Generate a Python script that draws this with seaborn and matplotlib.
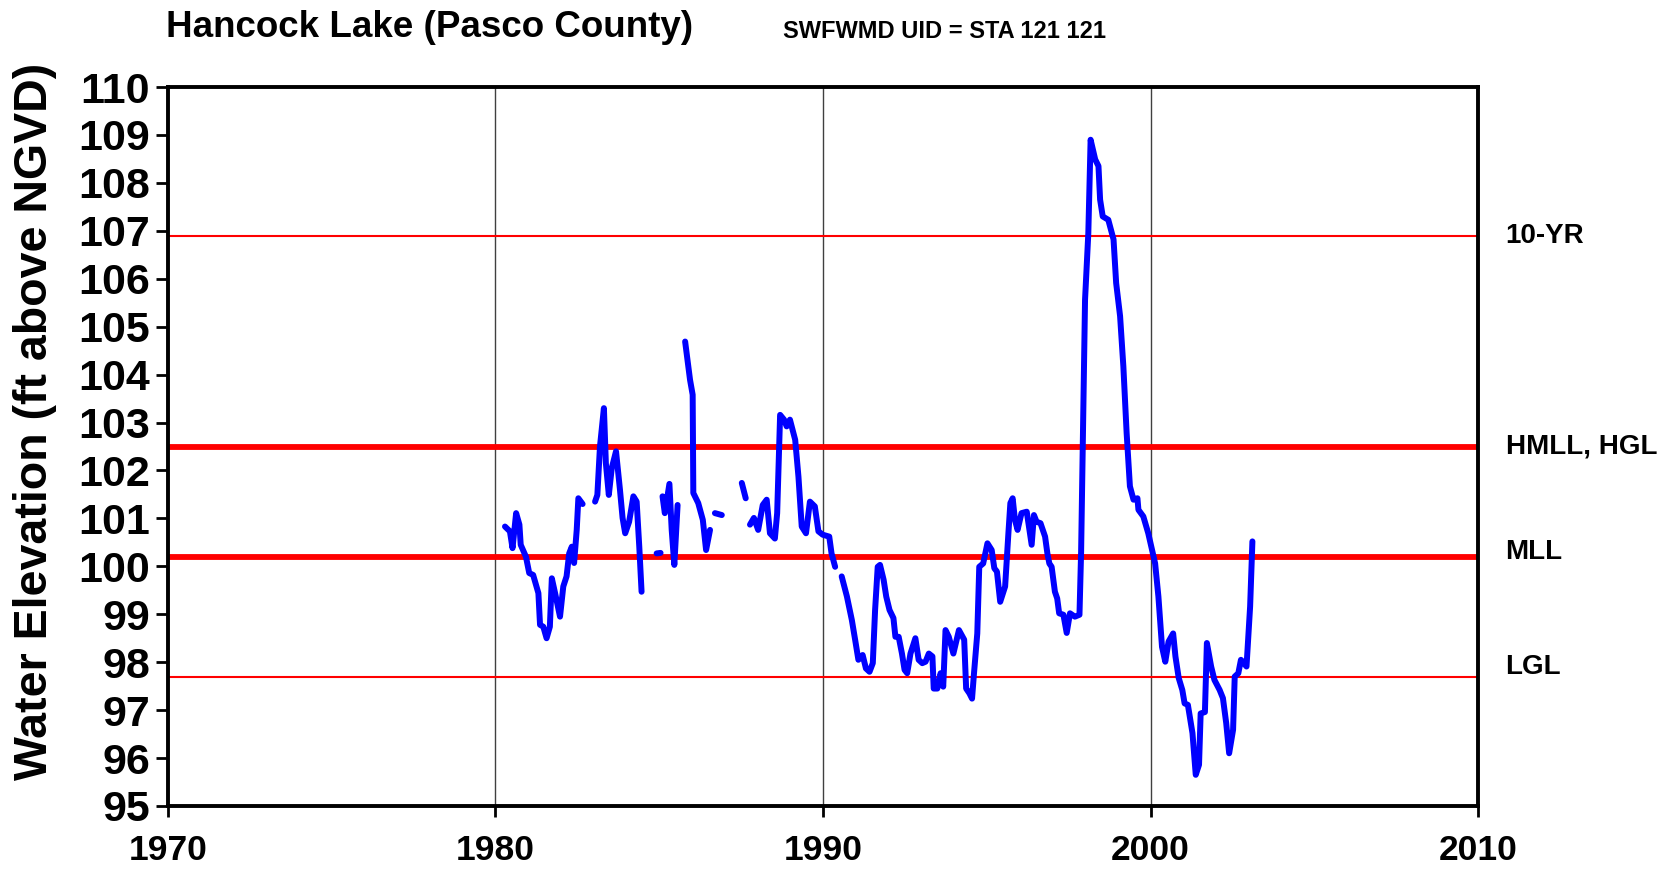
import numpy as np
import pandas as pd
import matplotlib
matplotlib.use('Agg')
import matplotlib.pyplot as plt
from matplotlib.ticker import MultipleLocator
import seaborn as sns

nan = np.nan

# Hancock Lake water levels (nan = gap in the record)
years = [1980.29, 1980.44, 1980.52, 1980.63, 1980.73, 1980.77, 1980.93, 1981.03, 1981.15, 1981.31,
         1981.36, 1981.46, 1981.56, 1981.66, 1981.72, 1981.82, 1981.97, 1982.07, 1982.17, 1982.25,
         1982.33, 1982.40, 1982.48, 1982.53, 1982.66, nan,
         1983.04, 1983.11, 1983.19, 1983.31, 1983.37, 1983.46, 1983.55, 1983.68, 1983.80, 1983.88,
         1983.96, 1984.08, 1984.21, 1984.31, 1984.39, 1984.46, nan,
         1984.92, 1985.04, nan,
         1985.10, 1985.17, 1985.31, 1985.38, 1985.46, 1985.56, nan,
         1985.79, 1985.94, 1986.02, 1986.04, 1986.19, 1986.33, 1986.43, 1986.55, nan,
         1986.70, 1986.91, nan,
         1987.52, 1987.64, nan,
         1987.77, 1987.89, 1988.02, 1988.16, 1988.28, 1988.38, 1988.53, 1988.60, 1988.69, 1988.81,
         1988.89, 1988.99, 1989.15, 1989.25, 1989.35, 1989.48, 1989.60, 1989.75, 1989.86, 1989.99,
         1990.19, 1990.26, 1990.37, nan,
         1990.57, 1990.73, 1990.88, 1990.98, 1991.08, 1991.21, 1991.31, 1991.42, 1991.52, 1991.59,
         1991.67, 1991.74, 1991.85, 1991.93, 1992.03, 1992.15, 1992.21, 1992.31, 1992.41, 1992.49,
         1992.57, 1992.67, 1992.82, 1992.92, 1993.03, 1993.13, 1993.23, 1993.34, 1993.38, 1993.49,
         1993.59, 1993.67, 1993.74, 1993.84, 1993.98, 1994.15, 1994.31, 1994.37, 1994.47, 1994.55,
         1994.61, 1994.71, 1994.77, 1994.89, 1995.02, 1995.15, 1995.23, 1995.31, 1995.41, 1995.56,
         1995.66, 1995.72, 1995.79, 1995.86, 1995.94, 1996.06, 1996.22, 1996.37, 1996.44, 1996.52,
         1996.64, 1996.78, 1996.85, 1996.91, 1996.98, 1997.08, 1997.15, 1997.21, 1997.34, 1997.44,
         1997.54, 1997.69, 1997.83, 1997.88, 1998.00, 1998.10, 1998.17, 1998.31, 1998.41, 1998.46,
         1998.54, 1998.71, 1998.87, 1998.95, 1999.07, 1999.17, 1999.27, 1999.37, 1999.48, 1999.60,
         1999.63, 1999.78, 1999.93, 2000.14, 2000.24, 2000.35, 2000.45, 2000.55, 2000.69, 2000.76,
         2000.86, 2000.97, 2001.04, 2001.14, 2001.28, 2001.38, 2001.48, 2001.53, 2001.66, 2001.72,
         2001.85, 2001.95, 2002.11, 2002.21, 2002.31, 2002.40, 2002.52, 2002.57, 2002.68, 2002.76,
         2002.93, 2003.04, 2003.11]

elev = [100.83, 100.73, 100.38, 101.11, 100.87, 100.45, 100.20, 99.86, 99.82, 99.44,
        98.78, 98.74, 98.50, 98.74, 99.75, 99.44, 98.95, 99.58, 99.79, 100.27,
        100.41, 100.07, 100.76, 101.42, 101.30, nan,
        101.35, 101.49, 102.50, 103.30, 102.15, 101.49, 102.05, 102.40, 101.60, 101.01,
        100.69, 100.93, 101.46, 101.35, 100.41, 99.47, nan,
        100.27, 100.28, nan,
        101.46, 101.11, 101.72, 100.76, 100.03, 101.28, nan,
        104.69, 103.89, 103.58, 101.53, 101.32, 100.97, 100.34, 100.76, nan,
        101.11, 101.07, nan,
        101.74, 101.42, nan,
        100.87, 101.01, 100.76, 101.28, 101.39, 100.69, 100.58, 101.11, 103.16, 103.06,
        102.92, 103.06, 102.64, 101.87, 100.83, 100.69, 101.35, 101.25, 100.73, 100.66,
        100.62, 100.27, 99.99, nan,
        99.79, 99.37, 98.88, 98.47, 98.05, 98.15, 97.87, 97.80, 97.98, 99.09,
        99.99, 100.03, 99.72, 99.37, 99.09, 98.92, 98.53, 98.53, 98.18, 97.84,
        97.77, 98.18, 98.50, 98.05, 97.98, 98.01, 98.18, 98.12, 97.45, 97.45,
        97.77, 97.49, 98.67, 98.53, 98.18, 98.67, 98.47, 97.45, 97.35, 97.24,
        97.77, 98.60, 99.99, 100.06, 100.48, 100.34, 99.96, 99.89, 99.26, 99.58,
        100.69, 101.32, 101.42, 100.97, 100.76, 101.11, 101.14, 100.45, 101.07, 100.93,
        100.90, 100.62, 100.27, 100.06, 99.99, 99.47, 99.33, 99.02, 98.99, 98.61,
        99.02, 98.95, 98.99, 100.3, 105.56, 106.95, 108.90, 108.49, 108.35, 107.65,
        107.30, 107.23, 106.82, 105.91, 105.22, 104.17, 102.78, 101.67, 101.39, 101.42,
        101.18, 101.04, 100.69, 100.06, 99.37, 98.32, 98.01, 98.43, 98.60, 98.12,
        97.67, 97.42, 97.14, 97.11, 96.52, 95.65, 95.86, 96.93, 96.96, 98.40,
        97.91, 97.63, 97.42, 97.25, 96.73, 96.10, 96.59, 97.70, 97.77, 98.05,
        97.91, 99.16, 100.52]

# guidance levels (ft NGVD)
level_names = ['10-YR', 'HMLL, HGL', 'MLL', 'LGL']
level_values = [106.9, 102.5, 100.2, 97.7]
level_label_y = [106.9, 102.5, 100.3, 97.9]

sns.set_style('white')
plt.rcParams['font.family'] = ['Liberation Sans', 'DejaVu Sans']
plt.rcParams['font.weight'] = 'bold'
plt.rcParams['text.color'] = 'black'
plt.rcParams['axes.labelcolor'] = 'black'
plt.rcParams['xtick.color'] = 'black'
plt.rcParams['ytick.color'] = 'black'

df = pd.DataFrame({'year': years, 'elev': elev})
df['seg'] = df['elev'].isna().cumsum()
df = df.dropna()

fig = plt.figure(figsize=(16.63, 8.72), dpi=100)
ax = fig.add_axes([0.101, 0.0757, 0.7878, 0.8245])

for x in [1980, 1990, 2000]:
    ax.axvline(x, color='#404040', lw=1.0, zorder=1)

for name, val in zip(level_names, level_values):
    lw = 4.2 if name in ('HMLL, HGL', 'MLL') else 1.5
    ax.axhline(val, color='red', lw=lw, zorder=2)

sns.lineplot(data=df, x='year', y='elev', units='seg', estimator=None,
             color='blue', lw=4.3, ax=ax, zorder=3)

ax.set_xlim(1970, 2010)
ax.set_ylim(95, 110)
ax.xaxis.set_major_locator(MultipleLocator(10))
ax.xaxis.set_minor_locator(MultipleLocator(1))
ax.yaxis.set_major_locator(MultipleLocator(1))
ax.yaxis.set_minor_locator(MultipleLocator(0.5))
ax.tick_params(axis='both', which='both', direction='out', width=2, color='black',
               labelcolor='black')
ax.tick_params(axis='y', which='both', length=9, labelsize=31, pad=4)
ax.tick_params(axis='x', which='both', length=8, labelsize=25.5, pad=12)
ax.tick_params(left=True, bottom=True)
for lab in ax.get_xticklabels() + ax.get_yticklabels():
    lab.set_fontweight('bold')
for s in ax.spines.values():
    s.set_linewidth(2.8)
    s.set_color('black')

ax.set_xlabel('')
ax.set_ylabel('Water Elevation (ft above NGVD)', fontsize=33.5, fontweight='bold',
              color='black')
ax.yaxis.set_label_coords(-0.085, 0.535)

for name, yv in zip(level_names, level_label_y):
    ax.text(1.021, yv, name, transform=ax.get_yaxis_transform(), fontsize=20,
            fontweight='bold', va='center', ha='left', color='black')

fig.text(0.0998, 0.969, 'Hancock Lake (Pasco County)', fontsize=26.5, fontweight='bold',
         ha='left', va='center', color='black')
fig.text(0.471, 0.964, 'SWFWMD UID = STA 121 121', fontsize=17, fontweight='bold',
         ha='left', va='center', color='black')

fig.savefig('out.png', dpi=100)
